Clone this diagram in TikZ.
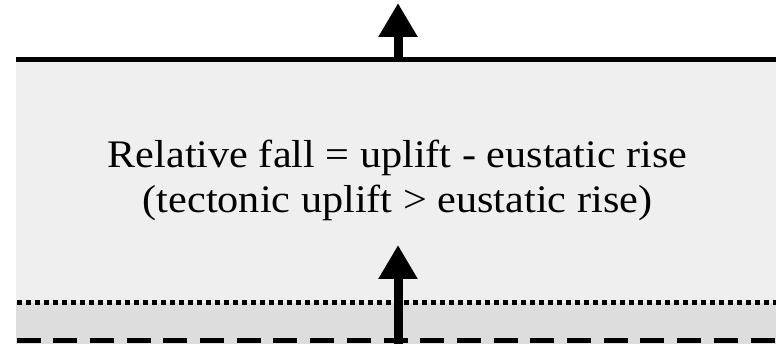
\documentclass[tikz,border=0pt]{standalone}
\usepackage{fontspec}
\setmainfont{Liberation Serif}
\newfontfamily\widefont[FakeStretch=1.083]{Liberation Serif}
\usetikzlibrary{arrows.meta}
\definecolor{upper}{HTML}{EFEFEF}
\definecolor{lower}{HTML}{DDDDDD}
\tikzset{
  boundary/.style={line width=5pt},
  bigarrow/.style={line width=9pt,-{Triangle[width=37pt,length=34pt]}},
  textline/.style={font=\widefont\fontsize{39}{45}\selectfont,anchor=base,inner sep=0pt},
}
\begin{document}
\begin{tikzpicture}[x=1pt,y=-1pt]
\useasboundingbox (0,0) rectangle (776,344);
\fill[upper] (16,59.5) rectangle (776,303);
\fill[lower] (16,303) rectangle (776,344);
% lines
\coordinate (topL) at (16,59.5);
\coordinate (topR) at (776,59.5);
\coordinate (dotL) at (16.5,303);
\coordinate (dotR) at (776,303);
\coordinate (dashL) at (16.5,340.5);
\coordinate (dashR) at (776,340.5);
\draw[boundary] (topL) -- (topR);
\draw[boundary,dash pattern=on 5pt off 4pt] (dotL) -- (dotR);
\draw[boundary,line width=5.5pt,dash pattern=on 24pt off 12.7pt] (dashL) -- (dashR);
% arrows
\coordinate (a1s) at (398,59.5);
\coordinate (a1e) at (398,3);
\coordinate (a2s) at (398,344);
\coordinate (a2e) at (398,245);
\draw[bigarrow] (a1s) -- (a1e);
\draw[bigarrow] (a2s) -- (a2e);
% text
\node[textline] (l1) at (397.5,168) {Relative fall = uplift - eustatic rise};
\node[textline] (l2) at (397.5,213) {(tectonic uplift > eustatic rise)};
\end{tikzpicture}
\end{document}
